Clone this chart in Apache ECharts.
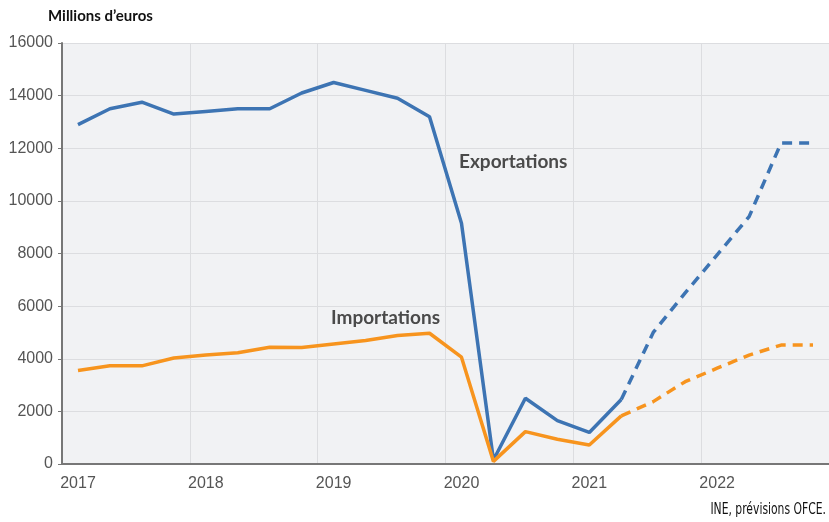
<!DOCTYPE html>
<html>
<head>
<meta charset="utf-8">
<script src="https://cdn.jsdelivr.net/npm/echarts@6/dist/echarts.min.js"></script>
<style>
  html, body { margin: 0; padding: 0; background: #fff; }
  #chart { width: 829px; height: 522px; }
</style>
</head>
<body>
<div id="chart"></div>
<script>
  // trimestres 2017T1 - 2022T4
  var quarters = [
    '2017T1', '2017T2', '2017T3', '2017T4',
    '2018T1', '2018T2', '2018T3', '2018T4',
    '2019T1', '2019T2', '2019T3', '2019T4',
    '2020T1', '2020T2', '2020T3', '2020T4',
    '2021T1', '2021T2', '2021T3', '2021T4',
    '2022T1', '2022T2', '2022T3', '2022T4'
  ];
  var yTicks = [0, 2000, 4000, 6000, 8000, 10000, 12000, 14000, 16000];

  // observé jusqu'à 2021T2
  var exportsActual = [12900, 13500, 13750, 13300, 13400, 13500, 13500, 14100,
    14500, 14200, 13900, 13200, 9150, 150, 2500, 1650, 1200, 2450];
  var importsActual = [3550, 3730, 3730, 4030, 4140, 4230, 4440, 4430,
    4560, 4690, 4880, 4970, 4060, 100, 1230, 940, 720, 1830];
  // prévisions 2021T2 - 2022T4
  var exportsForecast = [2450, 5000, 6500, 7950, 9400, 12200, 12200];
  var importsForecast = [1830, 2370, 3130, 3640, 4140, 4520, 4520];

  var forecastStart = exportsActual.length - 1;
  function pad(arr) {
    var out = [];
    for (var i = 0; i < forecastStart; i++) out.push('-');
    return out.concat(arr);
  }

  var blue = '#3d74b3';
  var orange = '#f7941e';
  var axisGray = '#777777';
  var gridGray = '#dcdde0';
  var tickFont = "'Liberation Sans', Arial, sans-serif";
  var boldFont = "Lato, 'Noto Sans', sans-serif";

  var chart = echarts.init(document.getElementById('chart'));
  var option = {
    animation: false,
    backgroundColor: '#ffffff',
    grid: {
      left: 62, right: 0, top: 43, bottom: 58,
      show: true, backgroundColor: '#f1f2f4', borderWidth: 0
    },
    xAxis: {
      type: 'category',
      data: quarters,
      boundaryGap: true,
      axisLine: { lineStyle: { color: axisGray, width: 2 } },
      axisTick: { interval: 3, length: 6, lineStyle: { color: axisGray } },
      splitLine: { show: true, interval: 3, lineStyle: { color: gridGray, width: 1 } },
      axisLabel: {
        interval: 3,
        margin: 12,
        color: '#555',
        fontSize: 16,
        fontFamily: tickFont,
        formatter: function (v) { return v.slice(0, 4); }
      }
    },
    yAxis: {
      type: 'value',
      min: yTicks[0],
      max: yTicks[yTicks.length - 1],
      interval: 2000,
      axisLine: { show: true, lineStyle: { color: axisGray, width: 2 } },
      axisTick: { show: true, length: 4, lineStyle: { color: axisGray } },
      splitLine: { lineStyle: { color: gridGray, width: 1 } },
      axisLabel: {
        margin: 9,
        color: '#555',
        fontSize: 16,
        fontFamily: tickFont,
        formatter: function (v) { return String(v); }
      }
    },
    series: [
      {
        name: 'Exportations', type: 'line', data: exportsActual,
        symbol: 'none', lineStyle: { color: blue, width: 3.5 }
      },
      {
        name: 'Exportations prévisions', type: 'line', data: pad(exportsForecast),
        symbol: 'none', lineStyle: { color: blue, width: 3.5, type: [10, 7] }
      },
      {
        name: 'Importations', type: 'line', data: importsActual,
        symbol: 'none', lineStyle: { color: orange, width: 3.5 }
      },
      {
        name: 'Importations prévisions', type: 'line', data: pad(importsForecast),
        symbol: 'none', lineStyle: { color: orange, width: 3.5, type: [10, 7] }
      }
    ],
    graphic: [
      {
        type: 'text', left: 48, top: 9,
        style: { text: 'Millions d’euros', fill: '#111', font: 'bold 15px ' + boldFont }
      },
      {
        type: 'text', left: 459, top: 152,
        style: { text: 'Exportations', fill: '#4a4a4a', font: 'bold 19px ' + boldFont }
      },
      {
        type: 'text', left: 331, top: 308,
        style: { text: 'Importations', fill: '#4a4a4a', font: 'bold 19px ' + boldFont }
      },
      {
        // source, texte étroit
        type: 'text', x: 826, y: 510, scaleX: 0.8,
        style: {
          text: 'INE, prévisions OFCE.', fill: '#111',
          font: "15px 'Liberation Sans Narrow', 'DejaVu Sans Condensed', sans-serif",
          align: 'right', verticalAlign: 'middle'
        }
      }
    ]
  };
  chart.setOption(option);
</script>
</body>
</html>
